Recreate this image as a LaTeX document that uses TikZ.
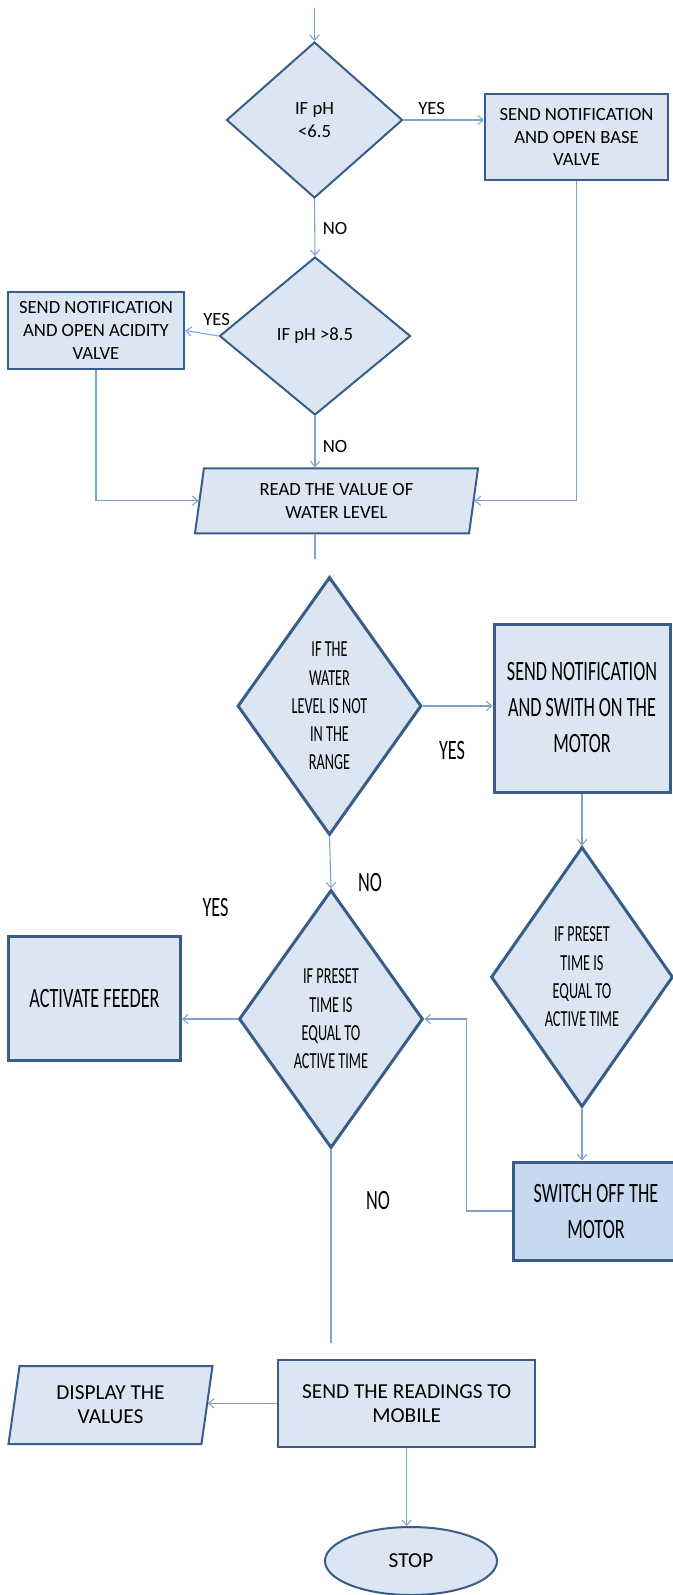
\documentclass[tikz,border=0pt]{standalone}
\usepackage{fontspec}
\setmainfont{Carlito}
\newfontfamily\condfont[FakeStretch=0.62]{Carlito}
\newfontfamily\condfontb[FakeStretch=0.65]{Carlito}
\usetikzlibrary{shapes.geometric,arrows.meta,calc}
\definecolor{boxfill}{HTML}{DCE6F2}
\definecolor{boxline}{HTML}{385D8A}
\definecolor{connc}{HTML}{7EA1D2}
\definecolor{darkfill}{HTML}{C6D9F1}
\tikzset{
  shp/.style={draw=boxline, fill=boxfill, line width=1.5pt, align=center, inner sep=0pt, text=black,
    font=\fontsize{14}{17}\selectfont},
  shpb/.style={shp, line width=2.25pt, font=\condfontb\fontsize{21}{27}\selectfont},
  rbox/.style={shp, rectangle},
  rboxb/.style={shpb, rectangle},
  dia/.style={shp, diamond},
  diab/.style={shpb, diamond, shape aspect=0.713, font=\condfont\fontsize{17.25}{21.2}\selectfont},
  para/.style={shp, trapezium, trapezium stretches body=true},
  lowfont/.style={font=\fontsize{16}{18}\selectfont},
  conn/.style={draw=connc, line width=0.8pt, -{Straight Barb[length=4pt,width=7pt]}},
  plainline/.style={draw=connc, line width=0.8pt},
  lbl/.style={font=\fontsize{14}{17}\selectfont, inner sep=0pt},
  lblb/.style={font=\condfontb\fontsize{21}{27}\selectfont, inner sep=0pt},
}
\begin{document}
\begin{tikzpicture}[x=0.75pt,y=-0.75pt]
\useasboundingbox (0,0) rectangle (673,1595);
\coordinate (start) at (314.5,8);
\node[dia, minimum width=132pt, minimum height=117pt, shape aspect=1.13] (d1) at (314.5,120) {IF pH\\<6.5};
\node[rbox, minimum width=137.25pt, minimum height=64.5pt] (base) at (576.5,137) {SEND NOTIFICATION\\AND OPEN BASE\\VALVE};
\node[dia, minimum width=143.25pt, minimum height=118.5pt, shape aspect=1.2] (d2) at (315,336) {IF pH >8.5};
\node[rbox, minimum width=132.5pt, minimum height=57.75pt] (acid) at (96,330.5) {SEND NOTIFICATION\\AND OPEN ACIDITY\\VALVE};
\node[para, minimum width=212.25pt, minimum height=48.75pt, trapezium left angle=75.6, trapezium right angle=104.4] (read) at (336.5,500.8) {READ THE VALUE OF\\WATER LEVEL};
\coordinate (rdend) at (315,559);
\node[diab, minimum width=138pt, minimum height=193.5pt] (d3) at (329.5,706) {IF THE\\WATER\\LEVEL IS NOT\\IN THE\\RANGE};
\node[rboxb, minimum width=132pt, minimum height=126pt] (motor) at (582,708) {SEND NOTIFICATION\\AND SWITH ON THE\\MOTOR};
\node[diab, minimum width=136.5pt, minimum height=195pt] (d4) at (582,977) {IF PRESET\\TIME IS\\EQUAL TO\\ACTIVE TIME};
\node[rboxb, fill=darkfill, minimum width=124.5pt, minimum height=73.5pt] (switch) at (596,1211) {SWITCH OFF THE\\MOTOR};
\node[diab, minimum width=138pt, minimum height=193.5pt] (d5) at (331,1019) {IF PRESET\\TIME IS\\EQUAL TO\\ACTIVE TIME};
\node[rboxb, minimum width=129pt, minimum height=93pt] (feeder) at (94.5,998.7) {ACTIVATE FEEDER};
\coordinate (d5end) at (328,1343);
\node[rbox, lowfont, minimum width=192.75pt, minimum height=65.25pt] (send) at (406.7,1403.3) {SEND THE READINGS TO\\MOBILE};
\node[para, lowfont, minimum width=153pt, minimum height=58.5pt, trapezium left angle=73.8, trapezium right angle=106.2] (display) at (110.5,1405) {DISPLAY THE\\VALUES};
\node[shp, lowfont, ellipse, minimum width=129pt, minimum height=51pt] (stop) at (411,1561) {STOP};

\draw[conn] (start) -- (d1.north);
\draw[conn] (d1.east) -- (d1.east -| base.west);
\draw[conn] (d1.south) -- (d2.north);
\draw[conn] (d2.west) -- (acid.east);
\draw[conn] (d2.south) -- (d2.south |- read.north);
\draw[conn] (acid.south) |- (read);
\draw[conn] (base.south) |- (read);
\draw[plainline] (read.south -| rdend) -- (rdend);
\draw[conn] (d3.east) -- (d3.east -| motor.west);
\draw[conn] (d3.south) -- (d5.north);
\draw[conn] (motor.south) -- (d4.north);
\draw[conn] (d4.south) -- (d4.south |- switch.north);
\draw[conn] (switch.west) -- ++(-45,0) |- (d5.east);
\draw[conn] (d5.west) -- (d5.west -| feeder.east);
\draw[plainline] (d5.south) -- (d5.south |- d5end);
\draw[conn] (send.west) -- (send.west -| display.east);
\draw[conn] (send.south) -- (send.south |- stop.north);

\node[lbl] (yes1) at (431.7,109) {YES};
\node[lbl] (no1) at (335,229) {NO};
\node[lbl] (yes2) at (216.7,320) {YES};
\node[lbl] (no2) at (335,447) {NO};
\node[lblb] (yes3) at (452,751) {YES};
\node[lblb] (no3) at (370,882) {NO};
\node[lblb] (yes4) at (215.5,908) {YES};
\node[lblb] (no4) at (378,1200) {NO};
\end{tikzpicture}
\end{document}
